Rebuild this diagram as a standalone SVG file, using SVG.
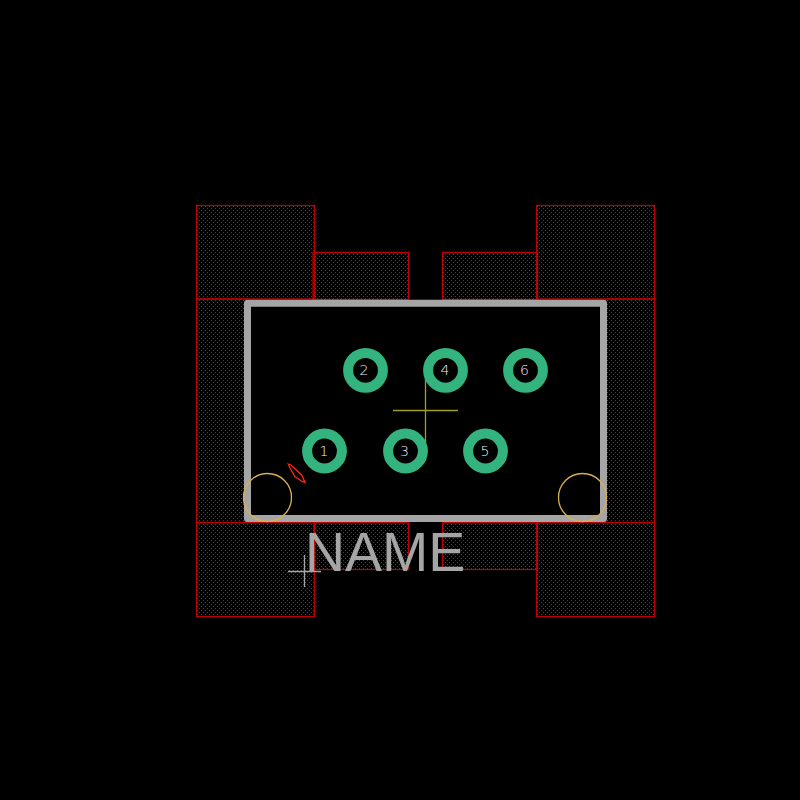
<svg xmlns="http://www.w3.org/2000/svg" width="800" height="800" viewBox="0 0 800 800">
<style>
.bg{fill:#000}
.pad{fill:url(#dots);stroke:#c00000;stroke-width:1.200}
.ring{fill:none;stroke:#33b47e;stroke-width:10}
.num{font-family:"DejaVu Sans","Liberation Sans",Arial,sans-serif;font-weight:200;font-size:14px;fill:#f0f0f0;text-anchor:middle}
.mark{fill:none;stroke-width:1.300}
</style>
<defs>
<pattern id="dots" width="4" height="4" patternUnits="userSpaceOnUse" x="196" y="205">
<rect x="1" y="1" width="1" height="1" fill="#f00000" shape-rendering="crispEdges"/>
<rect x="3" y="3" width="1" height="1" fill="#f00000" shape-rendering="crispEdges"/>
</pattern>
</defs>
<rect class="bg" width="800" height="800"/>
<g id="copper-areas">
<rect class="pad" x="196.500" y="205.500" width="118" height="93.500"/>
<rect class="pad" x="196.500" y="299" width="50" height="223.500"/>
<rect class="pad" x="196.500" y="522.500" width="118" height="94"/>
<rect class="pad" x="313" y="252.500" width="95.500" height="47"/>
<rect class="pad" x="442.500" y="252.500" width="95" height="47"/>
<rect class="pad" x="314" y="522.500" width="94.500" height="47"/>
<rect class="pad" x="442.500" y="522.500" width="95" height="47"/>
<rect class="pad" x="536.500" y="205.500" width="118" height="93.500"/>
<rect class="pad" x="605.500" y="299" width="49" height="223.500"/>
<rect class="pad" x="536.500" y="522.500" width="118" height="94"/>
</g>
<g id="outline">
<rect x="247.500" y="303.300" width="356" height="215.200" fill="none" stroke="#a5a5a5" stroke-width="7" stroke-linejoin="round"/>
</g>
<g id="connectors">
<line class="mark" x1="393" y1="410.500" x2="458" y2="410.500" stroke="#a0a020"/>
<line class="mark" x1="425.500" y1="378" x2="425.500" y2="443" stroke="#a0a020"/>
<line class="mark" x1="288" y1="571.500" x2="321" y2="571.500" stroke="#a5a5a5"/>
<line class="mark" x1="304.500" y1="555" x2="304.500" y2="587" stroke="#a5a5a5"/>
</g>
<g id="pin-1"><circle class="ring" cx="324.500" cy="451" r="17.400"/><text class="num" x="324" y="456">1</text></g>
<g id="pin-2"><circle class="ring" cx="365.500" cy="370.300" r="17.400"/><text class="num" x="364" y="375">2</text></g>
<g id="pin-3"><circle class="ring" cx="405.500" cy="451" r="17.400"/><text class="num" x="404.500" y="456">3</text></g>
<g id="pin-4"><circle class="ring" cx="445.500" cy="370.300" r="17.400"/><text class="num" x="445" y="375">4</text></g>
<g id="pin-5"><circle class="ring" cx="485.500" cy="451" r="17.400"/><text class="num" x="485" y="456">5</text></g>
<g id="pin-6"><circle class="ring" cx="525.500" cy="370.300" r="17.400"/><text class="num" x="524.500" y="375">6</text></g>
<g id="corner-marks">
<circle class="mark" cx="267.500" cy="497.500" r="24" stroke="#d8b050"/>
<circle class="mark" cx="582.500" cy="497.500" r="24" stroke="#d8b050"/>
<path class="mark" d="M288.300 464 L291 465 L293 467 L301.700 475 L305 482.500 L302.700 481.700 L295 476.700 L290 468 Z" stroke="#ff2a10"/>
</g>
<g id="label">
<text x="305" y="571" font-family="'Liberation Sans',Arial,sans-serif" font-size="55.500" fill="#a5a5a5">NAME</text>
</g>
</svg>
